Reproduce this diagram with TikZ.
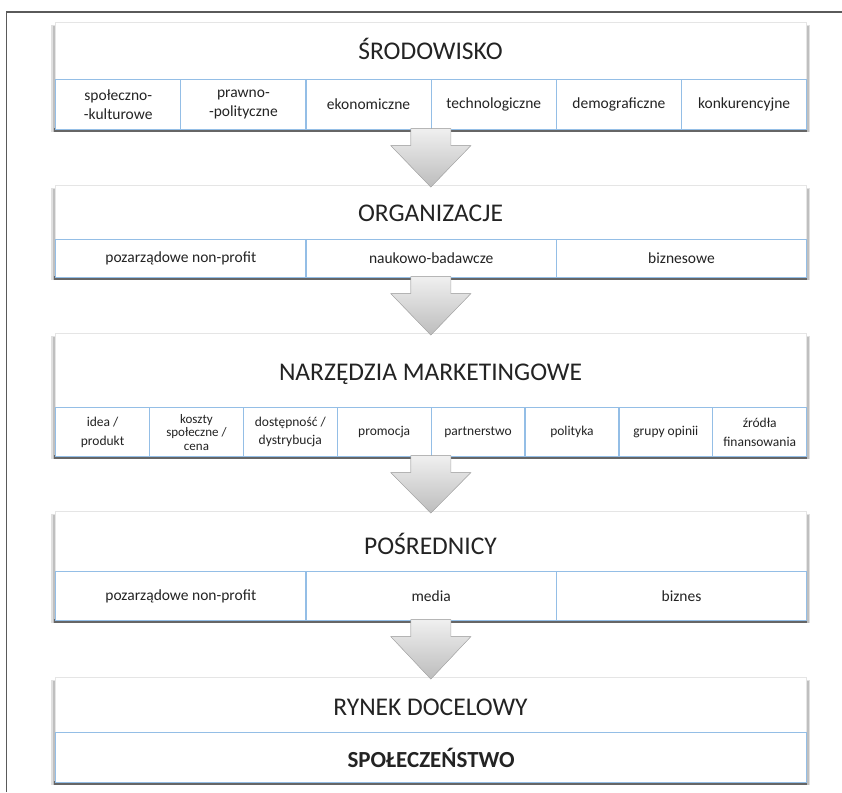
\documentclass[tikz,border=0pt]{standalone}
\usepackage{fontspec}
\setmainfont{Carlito}
\usetikzlibrary{calc}
\definecolor{cellblue}{RGB}{148,190,230}
\definecolor{txt}{RGB}{35,35,35}
\definecolor{framegray}{RGB}{90,90,90}
\tikzset{
  panelbox/.style={draw=black!10, fill=white, line width=0.6pt, minimum width=751pt, anchor=north west, inner sep=0pt},
  titletext/.style={font=\fontsize{25.5}{28}\selectfont, text=txt},
  cellbox/.style={draw=cellblue, line width=1.3pt, fill=none, anchor=north west, inner sep=1pt, align=center, text=txt,
     font=\fontsize{15.5}{18.5}\selectfont},
  smallcell/.style={cellbox, font=\fontsize{13.5}{18.5}\selectfont},
  blockarrow/.style={top color=black!6, bottom color=black!26, draw=black!30, line width=0.5pt, line join=miter}
}
\newcommand\mkshadow[3]{%
  \fill[black!12] (#1-4,#2+3) rectangle (#1+755,#3+3);
  \fill[black!25] (#1-2.5,#2+4) rectangle (#1+753.5,#3+2.5);
  \fill[black!60] (#1-1,#3-1) rectangle (#1+752,#3+3);
}
\begin{document}
\begin{tikzpicture}[x=1pt,y=-1pt]
\useasboundingbox (0,0) rectangle (842,792);
\fill[white] (0,0) rectangle (842,792);
% frame
\draw[framegray, line width=1.6pt] (6.5,792) -- (6.5,12) -- (842,12);

% ---------- Panel 1 ----------
\mkshadow{55}{22}{129}
\node[panelbox, minimum height=107pt] (p1) at (55,22) {};
\node[titletext] (t1) at (430.5,49) {ŚRODOWISKO};
\foreach \i/\txt in {0/{społeczno-\\-kulturowe},1/{prawno-\\-polityczne},2/ekonomiczne,3/technologiczne,4/demograficzne,5/konkurencyjne}{
  \node[cellbox, minimum width=125.17pt, minimum height=50pt] (c1\i) at (55+\i*125.17,79) {\txt};
}

% ---------- Panel 2 ----------
\mkshadow{55}{185}{277}
\node[panelbox, minimum height=92pt] (p2) at (55,185) {};
\node[titletext] (t2) at (430.5,213) {ORGANIZACJE};
\foreach \i/\txt in {0/pozarządowe non-profit,1/naukowo-badawcze,2/biznesowe}{
  \node[cellbox, minimum width=250.33pt, minimum height=38pt] (c2\i) at (55+\i*250.33,239) {\txt};
}

% ---------- Panel 3 ----------
\mkshadow{55}{333}{456}
\node[panelbox, minimum height=123pt] (p3) at (55,333) {};
\node[titletext] (t3) at (430.5,374) {NARZĘDZIA MARKETINGOWE};
\foreach \i/\txt in {0/{idea /\\produkt},2/{dostępność /\\dystrybucja},3/promocja,4/partnerstwo,5/polityka,6/grupy opinii,7/{źródła\\finansowania}}{
  \node[smallcell, minimum width=93.875pt, minimum height=49pt] (c3\i) at (55+\i*93.875,407) {\txt};
}
\node[smallcell, font=\fontsize{13}{13.5}\selectfont, minimum width=93.875pt, minimum height=49pt] (c31) at (148.875,407) {koszty\\społeczne /\\cena};

% ---------- Panel 4 ----------
\mkshadow{55}{511}{620}
\node[panelbox, minimum height=109pt] (p4) at (55,511) {};
\node[titletext] (t4) at (430.5,544) {POŚREDNICY};
\foreach \i/\txt in {0/pozarządowe non-profit,1/media,2/biznes}{
  \node[cellbox, minimum width=250.33pt, minimum height=49pt] (c4\i) at (55+\i*250.33,571) {\txt};
}

% ---------- Panel 5 ----------
\mkshadow{55}{677}{782}
\node[panelbox, minimum height=105pt] (p5) at (55,677) {};
\node[titletext] (t5) at (430.5,707) {RYNEK DOCELOWY};
\node[cellbox, minimum width=751pt, minimum height=50pt, font=\fontsize{23}{26}\selectfont\bfseries] (c50) at (55,732) {SPOŁECZEŃSTWO};

% ---------- Arrows ----------
\foreach \a/\b in {p1/p2,p2/p3,p3/p4,p4/p5}{
  \path let \p1=(\a.south), \p2=(\b.north) in
    coordinate (s\a) at (\x1,\y1) coordinate (e\a) at (\x1,\y2);
  \fill[blockarrow]
    let \p1=(s\a), \p2=(e\a) in
    (\x1-20pt,\y1+1pt) -- (\x1+20pt,\y1+1pt) -- (\x1+20pt,\y1-16pt) -- (\x1+40pt,\y1-16pt)
    -- (\x1,\y2-2pt) -- (\x1-40pt,\y1-16pt) -- (\x1-20pt,\y1-16pt) -- cycle;
}
\end{tikzpicture}
\end{document}
